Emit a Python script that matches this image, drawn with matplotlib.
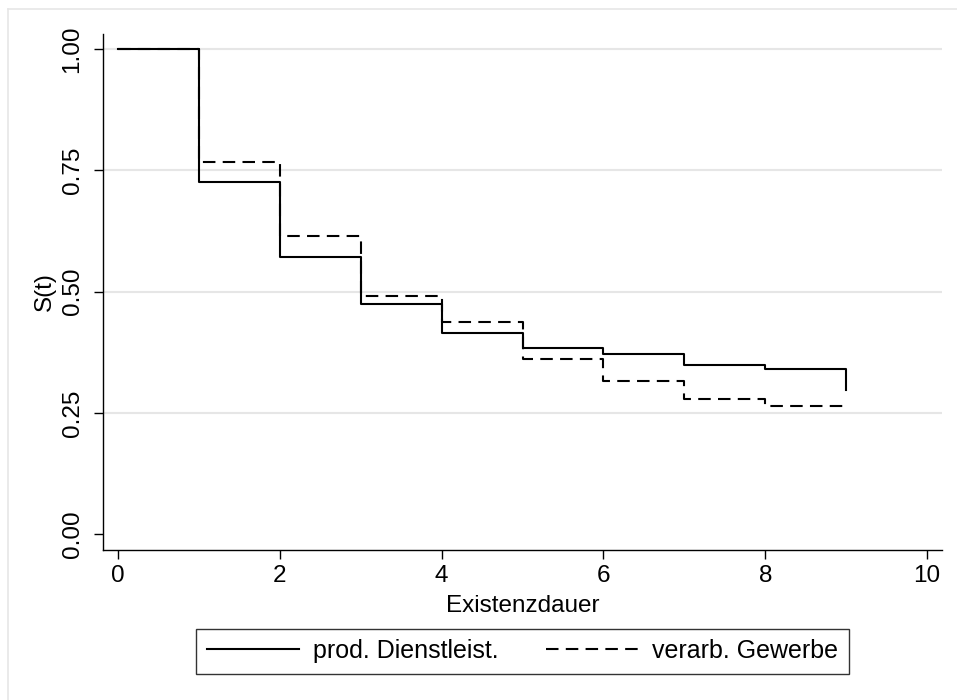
import matplotlib
matplotlib.use("Agg")
import matplotlib.pyplot as plt
from matplotlib.lines import Line2D

plt.rcParams['font.family'] = ['Liberation Sans', 'DejaVu Sans']

time = [0, 1, 2, 3, 4, 5, 6, 7, 8, 9]
surv_dienst = [1.0, 0.726, 0.571, 0.475, 0.415, 0.384, 0.372, 0.348, 0.341, 0.298]
surv_gewerbe = [1.0, 0.768, 0.615, 0.492, 0.438, 0.361, 0.315, 0.278, 0.264, 0.264]
labels = ["prod. Dienstleist.", "verarb. Gewerbe"]
xticks = [0, 2, 4, 6, 8, 10]
yticks = [0.0, 0.25, 0.5, 0.75, 1.0]
yticklabels = ["0.00", "0.25", "0.50", "0.75", "1.00"]

fig = plt.figure(figsize=(9.57, 7.0), dpi=100)
ax = fig.add_axes([0.1076, 0.2143, 0.8767, 0.7371])

# outer light frame (left and top)
fig.add_artist(Line2D([8/957, 8/957], [0, 1 - 9/700], transform=fig.transFigure, color='#e6e6e6', lw=1.2))
fig.add_artist(Line2D([8/957, 1], [1 - 9/700, 1 - 9/700], transform=fig.transFigure, color='#e6e6e6', lw=1.2))

for y in yticks[1:]:
    ax.axhline(y, color='#e6e6e6', lw=1.5, zorder=0)

lw = 1.5
ax.step(time, surv_dienst, where='post', color='black', lw=lw, label=labels[0])
ax.step(time, surv_gewerbe, where='post', color='black', lw=lw, dashes=(6, 3.5), label=labels[1])

ax.set_xlim(-0.189, 10.186)
ax.set_ylim(-0.0324, 1.031)
ax.set_xticks(xticks)
ax.set_xticklabels([str(v) for v in xticks])
ax.set_yticks(yticks)
ax.set_yticklabels(yticklabels, rotation=90, va='center')

for s in ['top', 'right']:
    ax.spines[s].set_visible(False)
for s in ['left', 'bottom']:
    ax.spines[s].set_linewidth(1.0)
ax.tick_params(axis='both', length=6.5, width=1.0, labelsize=17.5)
ax.tick_params(axis='x', pad=4)
ax.tick_params(axis='y', pad=7.5)

ax.set_xlabel("Existenzdauer", fontsize=17.5, labelpad=6)
ax.set_ylabel("S(t)", fontsize=17.5, labelpad=4)

handles = [Line2D([], [], color='black', lw=lw),
           Line2D([], [], color='black', lw=lw, dashes=(6, 3.5))]
leg = fig.legend(handles, labels, loc='center', bbox_to_anchor=(0.546, 0.07),
                 ncol=2, fontsize=18, frameon=True, fancybox=False,
                 edgecolor='black', handlelength=3.7, handletextpad=0.55,
                 columnspacing=1.9, borderpad=0.42, borderaxespad=0)
leg.get_frame().set_linewidth(1.0)

fig.savefig("out.png", dpi=100, facecolor='white')
